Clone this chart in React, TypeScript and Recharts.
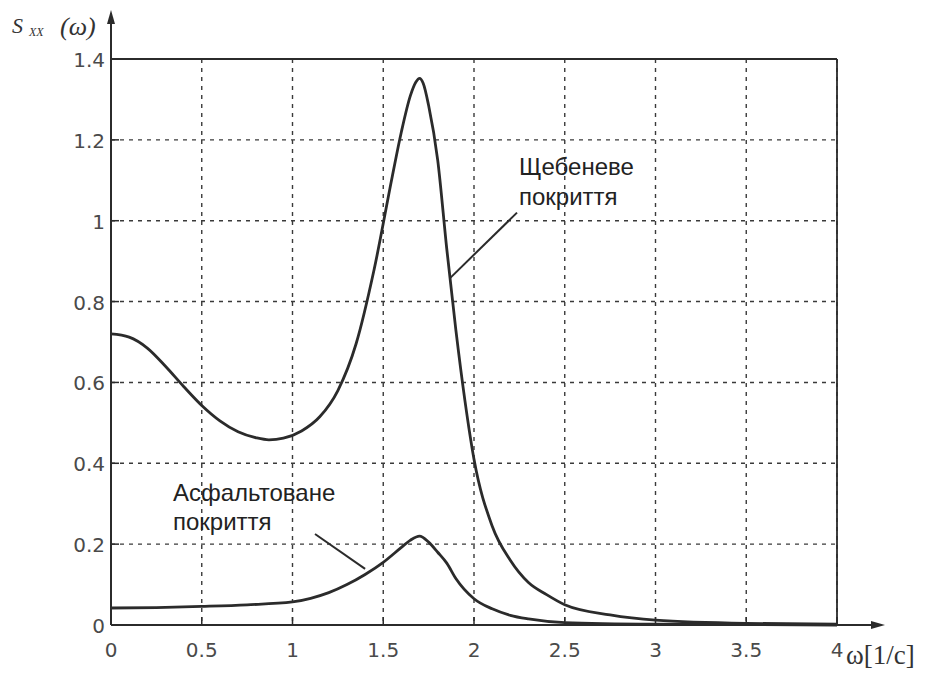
import React from "react";
import { LineChart, Line, XAxis, YAxis, CartesianGrid, ReferenceLine } from "recharts";

// ω values and spectral density for the crushed-stone surface
const gravelX = [0, 0.1, 0.2, 0.3, 0.4, 0.5, 0.6, 0.7, 0.8, 0.87, 0.95, 1.05, 1.15, 1.25, 1.35, 1.45, 1.55, 1.6, 1.65, 1.68, 1.7, 1.72, 1.75, 1.8, 1.85, 1.9, 1.95, 2.0, 2.1, 2.2, 2.3, 2.4, 2.5, 2.75, 3.0, 3.5, 4.0];
const gravelY = [0.72, 0.712, 0.685, 0.64, 0.59, 0.543, 0.505, 0.478, 0.463, 0.458, 0.462, 0.48, 0.515, 0.58, 0.695, 0.88, 1.11, 1.22, 1.31, 1.343, 1.352, 1.34, 1.285, 1.15, 0.93, 0.73, 0.555, 0.41, 0.245, 0.16, 0.105, 0.075, 0.05, 0.025, 0.012, 0.004, 0.002];

// ω values and spectral density for the asphalt surface
const asphaltX = [0, 0.25, 0.5, 0.75, 1.0, 1.1, 1.2, 1.3, 1.4, 1.5, 1.6, 1.65, 1.7, 1.75, 1.8, 1.85, 1.9, 2.0, 2.1, 2.2, 2.3, 2.5, 3.0, 3.5, 4.0];
const asphaltY = [0.042, 0.043, 0.046, 0.05, 0.057, 0.066, 0.08, 0.1, 0.125, 0.155, 0.192, 0.21, 0.22, 0.205, 0.18, 0.153, 0.115, 0.065, 0.04, 0.024, 0.015, 0.006, 0.002, 0.001, 0.0];

const xTicks = [0, 0.5, 1, 1.5, 2, 2.5, 3, 3.5, 4];
const yTicks = [0, 0.2, 0.4, 0.6, 0.8, 1, 1.2, 1.4];

const gravelData = gravelX.map((w, i) => ({ w, s: gravelY[i] }));
const asphaltData = asphaltX.map((w, i) => ({ w, s: asphaltY[i] }));

const W = 927;
const H = 675;
const INK = "#2b2b2b";
const TICK_FONT = "'DejaVu Sans', sans-serif";
const NOTE_FONT = "'Liberation Sans', Arial, sans-serif";
const SERIF = "'Liberation Serif', 'DejaVu Serif', serif";

const XTick = (props: any) => {
  const { x, y, payload } = props;
  return (
    <g>
      <line x1={x} x2={x} y1={y} y2={y - 8} stroke={INK} strokeWidth={1.5} />
      <text x={x} y={y + 32} textAnchor="middle" fontFamily={TICK_FONT} fontSize={20} fill="#4a4a4a">
        {String(payload.value)}
      </text>
    </g>
  );
};

const YTick = (props: any) => {
  const { x, y, payload } = props;
  return (
    <g>
      <line x1={x} x2={x + 8} y1={y} y2={y} stroke={INK} strokeWidth={1.5} />
      <text x={x - 6} y={y + 8} textAnchor="end" fontFamily={TICK_FONT} fontSize={20} fill="#4a4a4a">
        {String(payload.value)}
      </text>
    </g>
  );
};

export default function App() {
  return (
    <div style={{ position: "absolute", left: 0, top: 0, width: W, height: H, background: "#fff" }}>
      <LineChart width={W} height={H} margin={{ top: 59, right: 90, bottom: 20, left: 51 }}>
        <CartesianGrid stroke="#3a3a3a" strokeWidth={1.4} strokeDasharray="4 5" />
        <XAxis
          dataKey="w"
          type="number"
          domain={[0, 4]}
          ticks={xTicks}
          allowDuplicatedCategory={false}
          height={30}
          tickSize={0}
          tickMargin={0}
          tickLine={false}
          axisLine={{ stroke: INK, strokeWidth: 2 }}
          tick={<XTick />}
        />
        <YAxis
          type="number"
          domain={[0, 1.4]}
          ticks={yTicks}
          width={60}
          tickSize={0}
          tickMargin={0}
          tickLine={false}
          axisLine={{ stroke: INK, strokeWidth: 2 }}
          tick={<YTick />}
        />
        <ReferenceLine y={1.4} stroke={INK} strokeWidth={2} />
        <ReferenceLine x={4} stroke={INK} strokeWidth={1.8} />
        <Line data={gravelData} dataKey="s" type="monotone" stroke={INK} strokeWidth={2.8} dot={false} isAnimationActive={false} />
        <Line data={asphaltData} dataKey="s" type="monotone" stroke={INK} strokeWidth={2.8} dot={false} isAnimationActive={false} />
        {/* leader lines from the captions to their curves */}
        <ReferenceLine segment={[{ x: 2.237, y: 1.02 }, { x: 1.868, y: 0.858 }]} stroke={INK} strokeWidth={2} />
        <ReferenceLine segment={[{ x: 1.124, y: 0.225 }, { x: 1.4, y: 0.139 }]} stroke={INK} strokeWidth={2} />
      </LineChart>
      <svg
        width={W}
        height={H}
        style={{ position: "absolute", left: 0, top: 0, pointerEvents: "none" }}
      >
        {/* axis arrows */}
        <line x1={111} y1={60} x2={111} y2={16} stroke={INK} strokeWidth={2} />
        <polygon points="111,10 107,24 115,24" fill={INK} />
        <line x1={837} y1={625} x2={876} y2={625} stroke={INK} strokeWidth={2} />
        <polygon points="885,625 871,621 871,629" fill={INK} />

        {/* axis titles */}
        <text x={12} y={33} fontFamily={SERIF} fontStyle="italic" fontSize={22} fill="#333">S</text>
        <text x={29} y={36} fontFamily={SERIF} fontStyle="italic" fontSize={12} fill="#333">XX</text>
        <text x={60} y={35} fontFamily={SERIF} fontStyle="italic" fontSize={26} fill="#333">(ω)</text>
        <text x={846} y={664} fontFamily={SERIF} fontSize={27} fill="#333">ω[1/c]</text>

        {/* curve captions */}
        <text fontFamily={NOTE_FONT} fontSize={24} fill="#222">
          <tspan x={519} y={175}>Щебеневе</tspan>
          <tspan x={519} y={205}>покриття</tspan>
        </text>
        <text fontFamily={NOTE_FONT} fontSize={24} fill="#222">
          <tspan x={173} y={501}>Асфальтоване</tspan>
          <tspan x={173} y={530}>покриття</tspan>
        </text>
      </svg>
    </div>
  );
}
